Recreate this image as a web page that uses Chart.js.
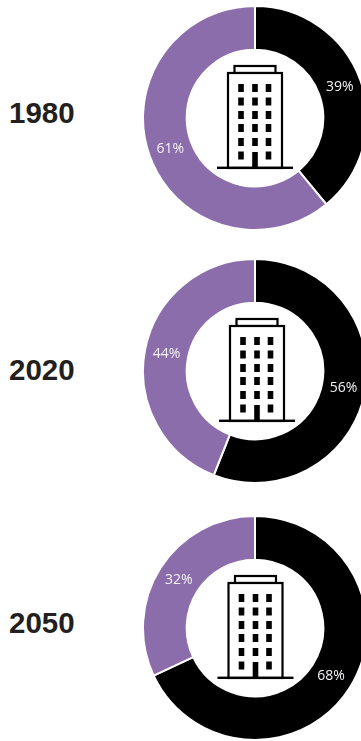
<!DOCTYPE html>
<html>
<head>
<meta charset="utf-8">
<style>
  html, body { margin: 0; padding: 0; background: #fff; width: 361px; height: 741px; overflow: hidden; }
  .year { position: absolute; left: 9px; font: bold 29.5px "Liberation Sans", Arial, sans-serif; color: #231f20; line-height: 32px; }
  .ring { position: absolute; width: 228px; height: 228px; }
</style>
<script src="https://cdn.jsdelivr.net/npm/chart.js@4"></script>
</head>
<body>
<script>
// Share of each segment by year
const years = ['1980', '2020', '2050'];
const blackShare = [39, 56, 68];
const purpleShare = [61, 44, 32];
const segmentColors = ['#000000', '#8c6dab'];

// Page placement of each ring: centre x, centre y
const ringCentres = [[255, 118], [255, 371], [255, 628]];
const iconShiftX = [0, 2, 0.5];
const yearBaselines = [97, 354, 607];
const outerRadius = 112;

// Office tower outline drawn in the middle of each ring
function drawTower(ctx, cx, cy) {
  ctx.save();
  ctx.translate(cx, cy);
  ctx.strokeStyle = '#000';
  ctx.fillStyle = '#000';
  ctx.lineWidth = 2.2;
  ctx.strokeRect(-20.5, -52, 41, 7);
  ctx.fillStyle = '#fff';
  ctx.fillRect(-27, -45, 54, 95);
  ctx.fillStyle = '#000';
  ctx.strokeRect(-27, -45, 54, 95);
  ctx.fillRect(-38, 48.6, 76, 2.4);
  const cols = [-14, 0, 13.5];
  const rows = [-30, -16.5, -3, 10, 24, 37.5];
  rows.forEach((r, ri) => cols.forEach((c, ci) => {
    if (ri === 5 && ci === 1) return;
    ctx.fillRect(c - 2.8, r - 4, 5.6, 8);
  }));
  ctx.fillRect(-2.8, 34, 5.6, 15);
  ctx.restore();
}

const towerAndLabels = {
  id: 'towerAndLabels',
  afterDatasetsDraw(chart, args, opts) {
    const { ctx } = chart;
    const meta = chart.getDatasetMeta(0);
    const first = meta.data[0];
    drawTower(ctx, first.x + opts.shiftX, first.y);
    ctx.save();
    ctx.fillStyle = '#f4f1f6';
    ctx.font = '14px "Open Sans", sans-serif';
    ctx.textAlign = 'center';
    ctx.textBaseline = 'middle';
    meta.data.forEach((arc, i) => {
      const mid = (arc.startAngle + arc.endAngle) / 2;
      const r = (arc.innerRadius + arc.outerRadius) / 2;
      ctx.fillText(chart.data.datasets[0].data[i] + '%', arc.x + Math.cos(mid) * r, arc.y + Math.sin(mid) * r);
    });
    ctx.restore();
  }
};

years.forEach((year, i) => {
  const label = document.createElement('div');
  label.className = 'year';
  label.textContent = year;
  label.style.top = yearBaselines[i] + 'px';
  document.body.appendChild(label);

  const canvas = document.createElement('canvas');
  canvas.className = 'ring';
  const [cx, cy] = ringCentres[i];
  canvas.style.left = (cx - 114) + 'px';
  canvas.style.top = (cy - 114) + 'px';
  canvas.width = 228;
  canvas.height = 228;
  document.body.appendChild(canvas);

  new Chart(canvas, {
    type: 'doughnut',
    data: {
      labels: ['Black', 'Purple'],
      datasets: [{
        data: [blackShare[i], purpleShare[i]],
        backgroundColor: segmentColors,
        borderColor: '#ffffff',
        borderWidth: 2,
        borderAlign: 'center'
      }]
    },
    options: {
      responsive: false,
      animation: false,
      cutout: '61%',
      radius: outerRadius,
      layout: { padding: 0 },
      plugins: {
        legend: { display: false },
        tooltip: { enabled: false },
        towerAndLabels: { shiftX: iconShiftX[i] }
      }
    },
    plugins: [towerAndLabels]
  });
});
</script>
</body>
</html>
